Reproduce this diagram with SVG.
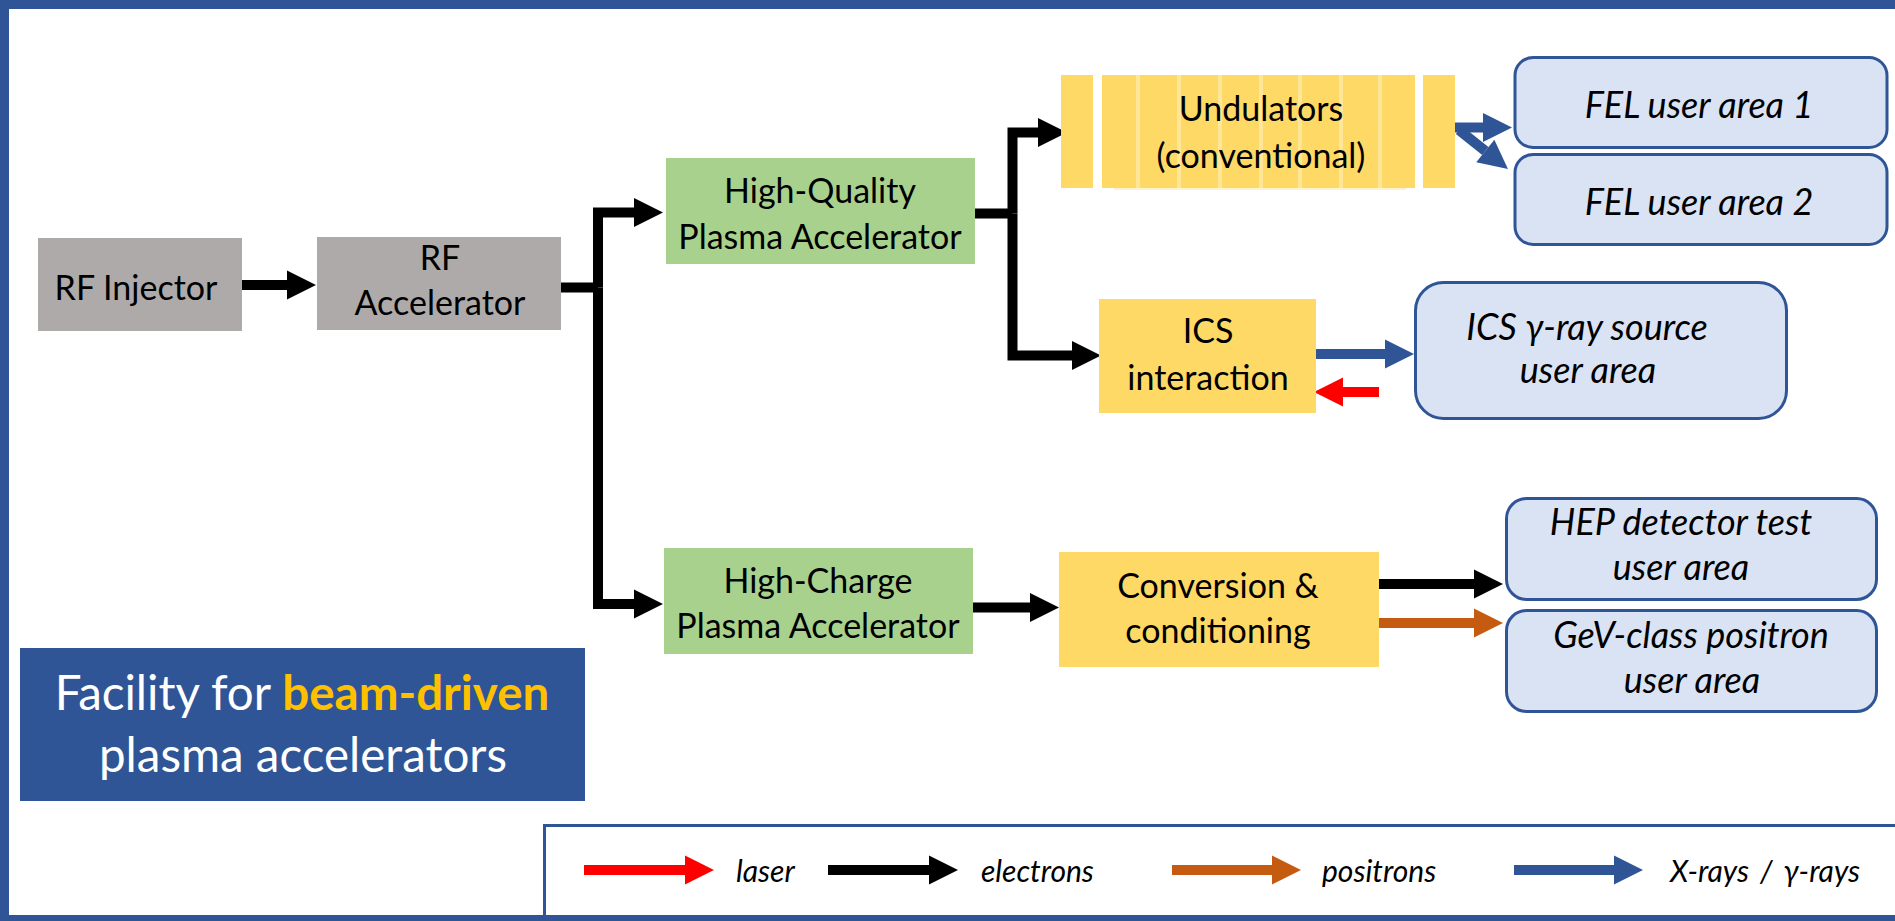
<svg xmlns="http://www.w3.org/2000/svg" width="1895" height="921" viewBox="0 0 1895 921">
  <style>
    text { font-family: Lato, "Liberation Sans", sans-serif; fill: #000; }
    .lbl { font-size: 34px; text-anchor: middle; }
    .usr { font-size: 36px; text-anchor: middle; font-style: italic; }
    .leg { font-size: 30px; font-style: italic; }
    .gray { fill: #AEAAAA; }
    .green { fill: #A9D18E; }
    .yellow { fill: #FFD966; }
    .stripe { fill: #FFE699; }
    .user { fill: #DAE3F3; stroke: #2F5597; stroke-width: 3; }
    .wire { fill: none; stroke-width: 10; stroke-linejoin: miter; }
    .e { stroke: #000; }
    .x { stroke: #2F5597; }
    .p { stroke: #C55A11; }
    .l { stroke: #FF0000; }
  </style>
  <defs>
    <marker id="head-e" markerUnits="userSpaceOnUse" markerWidth="29" markerHeight="29" refX="0" refY="14.5" orient="auto" overflow="visible">
      <path d="M0,0 L29,14.5 L0,29 Z" fill="#000"/>
    </marker>
    <marker id="head-x" markerUnits="userSpaceOnUse" markerWidth="29" markerHeight="29" refX="0" refY="14.5" orient="auto" overflow="visible">
      <path d="M0,0 L29,14.5 L0,29 Z" fill="#2F5597"/>
    </marker>
    <marker id="head-p" markerUnits="userSpaceOnUse" markerWidth="29" markerHeight="29" refX="0" refY="14.5" orient="auto" overflow="visible">
      <path d="M0,0 L29,14.5 L0,29 Z" fill="#C55A11"/>
    </marker>
    <marker id="head-l" markerUnits="userSpaceOnUse" markerWidth="29" markerHeight="29" refX="0" refY="14.5" orient="auto" overflow="visible">
      <path d="M0,0 L29,14.5 L0,29 Z" fill="#FF0000"/>
    </marker>
  </defs>

  <rect width="1895" height="921" fill="#fff"/>
  <!-- frame (open on the right) -->
  <rect x="4.5" y="4.5" width="1910" height="915" fill="none" stroke="#2F5597" stroke-width="9"/>

  <!-- legend panel -->
  <g id="legend">
    <rect x="544.5" y="825.5" width="1370" height="100" fill="none" stroke="#2F5597" stroke-width="3"/>
    <path class="wire l" d="M584,870 H685" marker-end="url(#head-l)"/>
    <text class="leg" x="736" y="882">laser</text>
    <path class="wire e" d="M828,870 H929" marker-end="url(#head-e)"/>
    <text class="leg" x="981" y="882">electrons</text>
    <path class="wire p" d="M1172,870 H1272" marker-end="url(#head-p)"/>
    <text class="leg" x="1322" y="882">positrons</text>
    <path class="wire x" d="M1514,870 H1614" marker-end="url(#head-x)"/>
    <text class="leg" x="1670" y="882" word-spacing="4">X-rays / γ-rays</text>
  </g>

  <!-- title block -->
  <g id="title">
    <rect x="20" y="648" width="565" height="153" fill="#2F5597"/>
    <text x="302" y="710" font-size="47.5" text-anchor="middle" style="fill:#fff">Facility for <tspan font-weight="bold" style="fill:#FFC000">beam-driven</tspan></text>
    <text x="303" y="772" font-size="47.5" text-anchor="middle" style="fill:#fff">plasma accelerators</text>
  </g>

  <!-- beam lines -->
  <g id="connectors">
    <path class="wire e" d="M241,285 H287" marker-end="url(#head-e)"/>
    <path class="wire e" d="M561,287.5 H598"/>
    <path class="wire e" d="M598,287.5 V212.5 H634" marker-end="url(#head-e)"/>
    <path class="wire e" d="M598,287.5 V604 H634" marker-end="url(#head-e)"/>
    <path class="wire e" d="M975,213.5 H1012.5"/>
    <path class="wire e" d="M1012.5,213.5 V132.5 H1038" marker-end="url(#head-e)"/>
    <path class="wire e" d="M1012.5,213.5 V355.5 H1072" marker-end="url(#head-e)"/>
    <path class="wire x" d="M1455,127.5 H1483" marker-end="url(#head-x)"/>
    <path class="wire x" d="M1459,130 L1485.3,151" marker-end="url(#head-x)"/>
    <path class="wire x" d="M1316,354 H1385" marker-end="url(#head-x)"/>
    <path class="wire l" d="M1379,392 H1343" marker-end="url(#head-l)"/>
    <path class="wire e" d="M973,607.5 H1030" marker-end="url(#head-e)"/>
    <path class="wire e" d="M1379,584 H1474" marker-end="url(#head-e)"/>
    <path class="wire p" d="M1379,623 H1474" marker-end="url(#head-p)"/>
  </g>

  <g id="rf-injector">
    <rect class="gray" x="38" y="238" width="204" height="93"/>
    <text class="lbl" x="136" y="300">RF Injector</text>
  </g>

  <g id="rf-accelerator">
    <rect class="gray" x="317" y="237" width="244" height="93"/>
    <text class="lbl" x="440" y="270">RF</text>
    <text class="lbl" x="440" y="315">Accelerator</text>
  </g>

  <g id="hq-plasma">
    <rect class="green" x="666" y="158" width="309" height="106"/>
    <text class="lbl" x="820" y="203">High-Quality</text>
    <text class="lbl" x="820" y="249">Plasma Accelerator</text>
  </g>

  <g id="hc-plasma">
    <rect class="green" x="664" y="548" width="309" height="106"/>
    <text class="lbl" x="818" y="593">High-Charge</text>
    <text class="lbl" x="818" y="638">Plasma Accelerator</text>
  </g>

  <g id="undulators">
    <rect class="yellow" x="1061" y="75" width="32" height="113"/>
    <rect x="1114" y="186" width="292" height="4" fill="#FFF2CC"/>
    <rect class="yellow" x="1102" y="75" width="313" height="113"/>
    <rect class="stripe" x="1136" y="75" width="4" height="113"/>
    <rect class="stripe" x="1177" y="75" width="4" height="113"/>
    <rect class="stripe" x="1218" y="75" width="4" height="113"/>
    <rect class="stripe" x="1259" y="75" width="4" height="113"/>
    <rect class="stripe" x="1298" y="75" width="4" height="113"/>
    <rect class="stripe" x="1339" y="75" width="4" height="113"/>
    <rect class="stripe" x="1378" y="75" width="4" height="113"/>
    <rect class="yellow" x="1423" y="75" width="32" height="113"/>
    <text class="lbl" x="1261" y="121">Undulators</text>
    <text class="lbl" x="1261" y="168">(conventional)</text>
  </g>

  <g id="fel-1">
    <rect class="user" x="1515" y="57.5" width="372" height="90" rx="18"/>
    <text class="usr" x="1699" y="118">FEL user area 1</text>
  </g>

  <g id="fel-2">
    <rect class="user" x="1515" y="154.5" width="372" height="90" rx="18"/>
    <text class="usr" x="1699" y="215">FEL user area 2</text>
  </g>

  <g id="ics">
    <rect class="yellow" x="1099" y="299" width="217" height="114"/>
    <text class="lbl" x="1208" y="343">ICS</text>
    <text class="lbl" x="1208" y="390">interaction</text>
  </g>

  <g id="ics-user">
    <rect class="user" x="1415.5" y="282.5" width="371" height="136" rx="28"/>
    <text class="usr" x="1587" y="340">ICS γ-ray source</text>
    <text class="usr" x="1588" y="383">user area</text>
  </g>

  <g id="conversion">
    <rect class="yellow" x="1059" y="552" width="320" height="115"/>
    <text class="lbl" x="1218" y="598">Conversion &amp;</text>
    <text class="lbl" x="1218" y="643">conditioning</text>
  </g>

  <g id="hep-user">
    <rect class="user" x="1506.5" y="498.5" width="370" height="101" rx="20"/>
    <text class="usr" x="1681" y="535">HEP detector test</text>
    <text class="usr" x="1681" y="580">user area</text>
  </g>

  <g id="positron-user">
    <rect class="user" x="1506.5" y="610.5" width="370" height="101" rx="20"/>
    <text class="usr" x="1691" y="648">GeV-class positron</text>
    <text class="usr" x="1692" y="693">user area</text>
  </g>
</svg>
